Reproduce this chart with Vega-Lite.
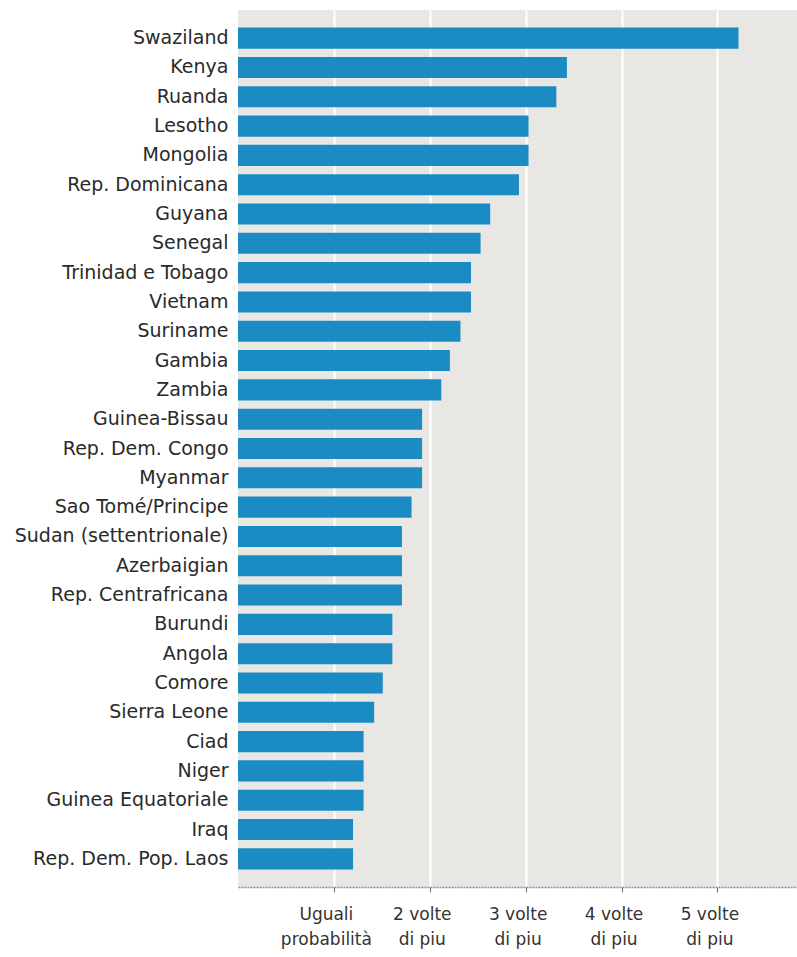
{
  "$schema": "https://vega.github.io/schema/vega-lite/v6.json",
  "autosize": {"type": "none"},
  "padding": {"left": 238, "top": 10, "right": 0, "bottom": 70},
  "width": 559,
  "height": 877,
  "background": "white",
  "config": {
    "view": {"fill": "#e9e7e4", "stroke": null},
    "font": "DejaVu Sans"
  },
  "data": {
    "values": [
      {"paese": "Swaziland", "valore": 5.22},
      {"paese": "Kenya", "valore": 3.43},
      {"paese": "Ruanda", "valore": 3.32},
      {"paese": "Lesotho", "valore": 3.03},
      {"paese": "Mongolia", "valore": 3.03},
      {"paese": "Rep. Dominicana", "valore": 2.93},
      {"paese": "Guyana", "valore": 2.63},
      {"paese": "Senegal", "valore": 2.53},
      {"paese": "Trinidad e Tobago", "valore": 2.43},
      {"paese": "Vietnam", "valore": 2.43},
      {"paese": "Suriname", "valore": 2.32},
      {"paese": "Gambia", "valore": 2.21},
      {"paese": "Zambia", "valore": 2.12},
      {"paese": "Guinea-Bissau", "valore": 1.92},
      {"paese": "Rep. Dem. Congo", "valore": 1.92},
      {"paese": "Myanmar", "valore": 1.92},
      {"paese": "Sao Tomé/Principe", "valore": 1.81},
      {"paese": "Sudan (settentrionale)", "valore": 1.71},
      {"paese": "Azerbaigian", "valore": 1.71},
      {"paese": "Rep. Centrafricana", "valore": 1.71},
      {"paese": "Burundi", "valore": 1.61},
      {"paese": "Angola", "valore": 1.61},
      {"paese": "Comore", "valore": 1.51},
      {"paese": "Sierra Leone", "valore": 1.42},
      {"paese": "Ciad", "valore": 1.31},
      {"paese": "Niger", "valore": 1.31},
      {"paese": "Guinea Equatoriale", "valore": 1.31},
      {"paese": "Iraq", "valore": 1.2},
      {"paese": "Rep. Dem. Pop. Laos", "valore": 1.2}
    ]
  },
  "mark": {"type": "bar", "color": "#1a8bc3"},
  "encoding": {
    "y": {
      "field": "paese",
      "type": "nominal",
      "sort": null,
      "scale": {"paddingInner": 0.28, "paddingOuter": 0.6},
      "axis": {
        "title": null,
        "ticks": false,
        "domain": false,
        "labelFontSize": 19,
        "labelColor": "#2a2a2a",
        "labelPadding": 10,
        "labelLimit": 240
      }
    },
    "x": {
      "field": "valore",
      "type": "quantitative",
      "scale": {"domain": [0, 5.83], "nice": false, "zero": true},
      "axis": {
        "title": null,
        "values": [1, 2, 3, 4, 5],
        "labelExpr": "datum.value == 1 ? ['Uguali', 'probabilità'] : [datum.value + ' volte', 'di piu']",
        "labelFontSize": 17,
        "labelColor": "#333333",
        "labelLineHeight": 25,
        "labelPadding": 14,
        "labelOffset": -8,
        "grid": true,
        "gridColor": "white",
        "gridWidth": 2,
        "gridOpacity": 1,
        "domainColor": "#8a8a8a",
        "domainDash": [2, 1],
        "domainWidth": 1.5,
        "tickColor": "#666666",
        "tickSize": 5,
        "labelFlush": false
      }
    }
  }
}
